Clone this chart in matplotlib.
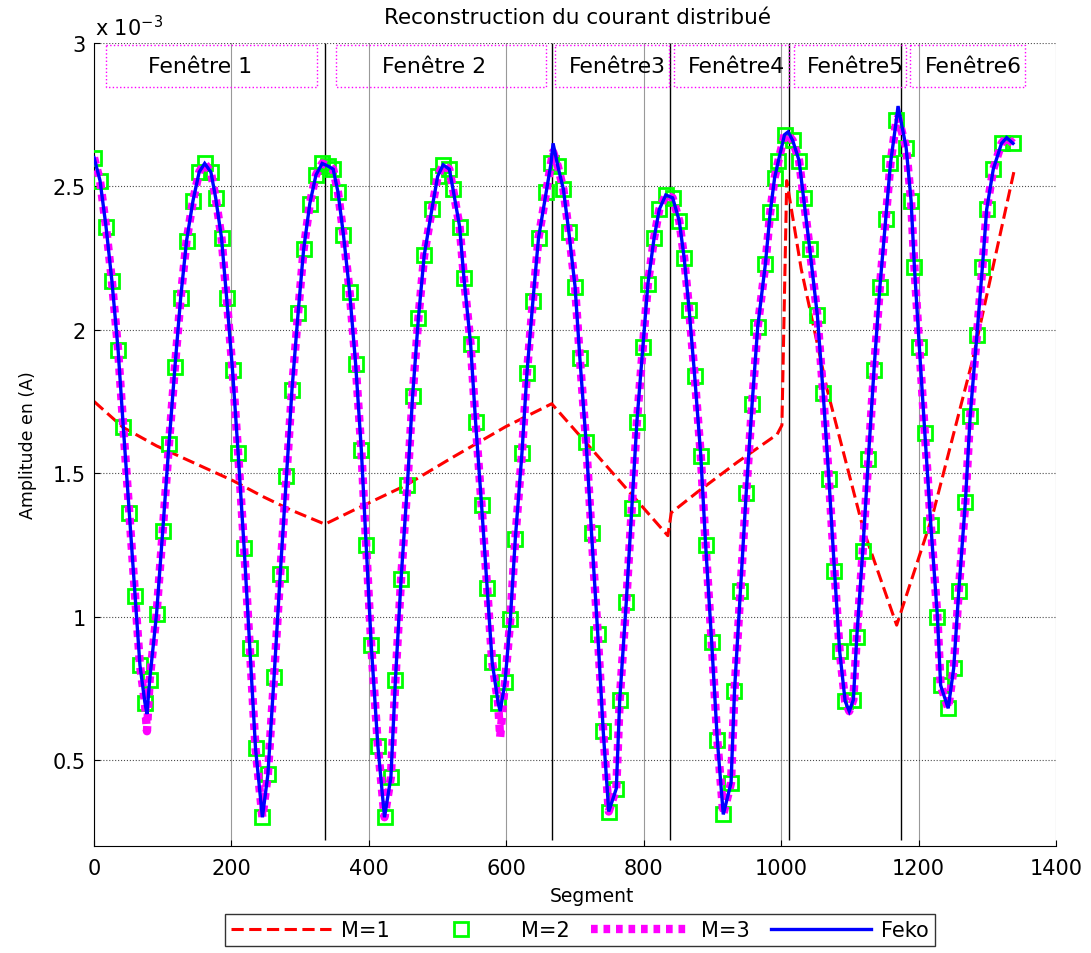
import matplotlib
matplotlib.use("Agg")
import matplotlib.pyplot as plt
import numpy as np

plt.rcParams['font.family'] = ['DejaVu Sans']

# amplitudes are in units of 1e-3 A (axis shows "x 10^-3")
# M=2 samples (green squares)
m2_seg = [0, 8.7, 17.4, 26, 35, 42.6, 51.3, 59.6, 66.8, 74,
          81, 91, 100, 109, 117.7, 126, 134.6, 144, 153, 161,
          170, 177, 185.5, 193, 201.5, 209.7, 218.4, 226.7, 235, 245,
          253, 262, 271, 280, 288, 297, 305, 314, 323, 332,
          341, 348, 355, 363, 372, 380.7, 389, 396, 403.4, 413,
          422.7, 432, 438.6, 446.8, 456, 463.6, 472, 480.5, 491.6, 500,
          508, 517, 522.4, 532, 538.3, 548, 555.2, 563.9, 572, 579.4,
          588, 598, 605.8, 613, 622.7, 630, 638.6, 646.8, 657.9, 665,
          675, 683, 691, 700, 707, 716, 724, 733, 741, 749,
          760, 765, 774.5, 782.6, 790, 798.6, 806, 815, 822.6, 832,
          842, 851.6, 858.8, 866, 874, 883, 890, 898.8, 907, 915.7,
          927, 932, 940.7, 949, 957.6, 965.8, 977, 984, 990.4, 996,
          1004.8, 1016.7, 1026, 1032.5, 1041.6, 1052.6, 1061, 1069.4, 1077.5, 1085,
          1093, 1105, 1110, 1118.7, 1126.8, 1135, 1143.6, 1152, 1159, 1167.5,
          1181.8, 1189, 1193.8, 1201, 1209, 1217.7, 1227.3, 1232, 1243, 1251,
          1258.4, 1268, 1275, 1284.7, 1292.8, 1299, 1308.6, 1320.6, 1337.3]
m2_amp = [2.60, 2.52, 2.36, 2.17, 1.93, 1.66, 1.36, 1.07, 0.83, 0.70,
          0.78, 1.01, 1.30, 1.60, 1.87, 2.11, 2.31, 2.45, 2.55, 2.58,
          2.55, 2.46, 2.32, 2.11, 1.86, 1.57, 1.24, 0.89, 0.54, 0.30,
          0.45, 0.79, 1.15, 1.49, 1.79, 2.06, 2.28, 2.44, 2.54, 2.58,
          2.57, 2.56, 2.48, 2.33, 2.13, 1.88, 1.58, 1.25, 0.90, 0.55,
          0.30, 0.44, 0.78, 1.13, 1.46, 1.77, 2.04, 2.26, 2.42, 2.535,
          2.575, 2.56, 2.49, 2.36, 2.18, 1.95, 1.68, 1.39, 1.10, 0.84,
          0.70, 0.77, 0.99, 1.27, 1.57, 1.85, 2.10, 2.32, 2.48, 2.58,
          2.57, 2.49, 2.34, 2.15, 1.90, 1.61, 1.29, 0.94, 0.60, 0.32,
          0.40, 0.71, 1.05, 1.38, 1.68, 1.94, 2.16, 2.32, 2.42, 2.47,
          2.46, 2.38, 2.25, 2.07, 1.84, 1.56, 1.25, 0.91, 0.57, 0.31,
          0.42, 0.74, 1.09, 1.43, 1.74, 2.01, 2.23, 2.41, 2.53, 2.59,
          2.68, 2.66, 2.59, 2.46, 2.28, 2.05, 1.78, 1.48, 1.16, 0.88,
          0.705, 0.71, 0.93, 1.23, 1.55, 1.86, 2.15, 2.385, 2.58, 2.73,
          2.635, 2.45, 2.22, 1.94, 1.64, 1.32, 1.00, 0.76, 0.68, 0.82,
          1.09, 1.40, 1.70, 1.98, 2.22, 2.42, 2.56, 2.65, 2.65]

# turning points of the continuous curves (Feko and M=3)
tip_seg = [77, 591, 668, 1010, 1099, 1170, 1328]
tip_feko = [0.66, 0.67, 2.65, 2.69, 0.67, 2.78, 2.67]
tip_m3 = [0.60, 0.58, 2.62, 2.68, 0.67, 2.74, 2.67]

# M=1 reconstruction (red dashed)
m1_seg = [0, 42, 91, 202, 246, 285, 336, 377, 454, 521, 599, 666,
          835, 840, 878, 936, 994, 1001, 1008, 1029, 1067, 1120, 1168,
          1220, 1278, 1340]
m1_amp = [1.75, 1.66, 1.595, 1.474, 1.418, 1.373, 1.322, 1.37, 1.458, 1.554, 1.662, 1.742,
          1.282, 1.362, 1.434, 1.538, 1.635, 1.667, 2.52, 2.213, 1.79, 1.30, 0.97,
          1.35, 1.89, 2.566]

# windows
window_edges = [336, 667, 838, 1011, 1174]
window_boxes = [(17.5, 324), (352, 658), (671, 837), (844, 1012), (1018, 1181), (1188, 1355)]
window_labels = ['Fenêtre 1', 'Fenêtre 2', 'Fenêtre3', 'Fenêtre4', 'Fenêtre5', 'Fenêtre6']
label_seg = [78, 419, 691, 864, 1037, 1209]


def merged(seg_a, amp_a, seg_b, amp_b):
    s = np.concatenate([seg_a, seg_b])
    a = np.concatenate([amp_a, amp_b])
    order = np.argsort(s)
    return s[order], a[order]


feko_x, feko_y = merged(m2_seg, m2_amp, tip_seg, tip_feko)
m3_x, m3_y = merged(m2_seg, m2_amp, tip_seg, tip_m3)

fig = plt.figure(figsize=(10.91, 9.54), dpi=100)
ax = fig.add_axes([0.0862, 0.1122, 0.8818, 0.8417])

ax.set_xlim(0, 1400)
ax.set_ylim(0.2, 3.0)
ax.set_xticks(range(0, 1401, 200))
ax.set_yticks([0.5, 1, 1.5, 2, 2.5, 3])
ax.set_yticklabels(['0.5', '1', '1.5', '2', '2.5', '3'])
ax.tick_params(direction='in', length=4, labelsize=15)
ax.tick_params(axis='x', pad=9)
ax.tick_params(axis='y', pad=6)
ax.xaxis.grid(True, color='0.6', linewidth=0.8)
ax.yaxis.grid(True, color='0.3', linestyle=':', linewidth=0.8)
ax.set_axisbelow(True)
for side in ['top', 'right']:
    ax.spines[side].set_visible(False)

ax.vlines(window_edges, 0.22, 3.0, color='k', linewidth=1, zorder=1)

l1, = ax.plot(m1_seg, m1_amp, color='red', linewidth=2.2, linestyle=(0, (4, 1.8)), label='M=1', zorder=2)
l2, = ax.plot(m2_seg, m2_amp, linestyle='none', marker='s', markersize=10.5,
              markerfacecolor='none', markeredgecolor=(0, 1, 0), markeredgewidth=2, label='M=2', zorder=3)
l3, = ax.plot(m3_x, m3_y, color=(1, 0, 1), linewidth=6, linestyle=(0, (0.8, 0.7)),
              dash_joinstyle='round', dash_capstyle='butt', label='M=3', zorder=4)
l4, = ax.plot(feko_x, feko_y, color='blue', linewidth=2.4, solid_joinstyle='miter',
              label='Feko', zorder=5)

# window annotation boxes
for (x0, x1), txt, xt in zip(window_boxes, window_labels, label_seg):
    ax.plot([x0, x1, x1, x0, x0], [2.993, 2.993, 2.846, 2.846, 2.993],
            color=(1, 0, 1), linestyle=':', linewidth=1, zorder=6, clip_on=False)
    ax.text(xt, 2.918, txt, fontsize=15.8, ha='left', va='center', zorder=7)

ax.set_xlabel('Segment', fontsize=13.5)
ax.xaxis.set_label_coords(0.518, -0.05)
ax.set_ylabel('Amplitude en (A)', fontsize=12.5)
ax.yaxis.set_label_coords(-0.059, 0.5)

fig.text(577 / 1091, 1 - 18 / 954, 'Reconstruction du courant distribué',
         fontsize=15.5, ha='center', va='center')
fig.text(95 / 1091, 1 - 28 / 954, r'x 10$^{-3}$', fontsize=15, ha='left', va='center')

leg = fig.legend(handles=[l1, l2, l3, l4], loc='center', ncol=4,
                 bbox_to_anchor=(580 / 1091, 1 - 931 / 954), fontsize=15,
                 frameon=True, fancybox=False, edgecolor='k', handlelength=4.8,
                 columnspacing=1.0, borderpad=0.3, handletextpad=0.5)
leg.get_frame().set_linewidth(1)

fig.savefig('out.png', dpi=100)
